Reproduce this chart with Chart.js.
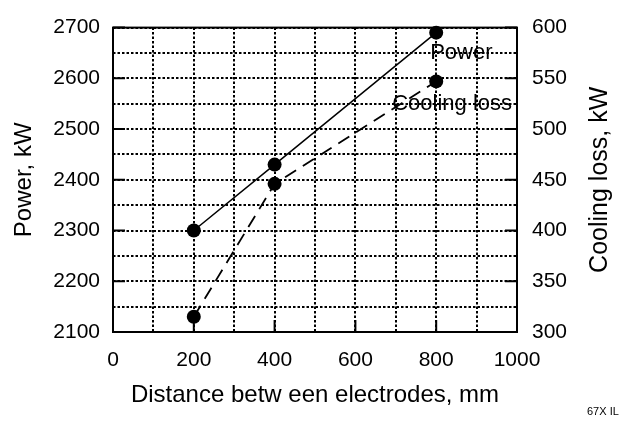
<!DOCTYPE html>
<html>
<head>
<meta charset="utf-8">
<script src="https://cdn.jsdelivr.net/npm/chart.js@4.4.0/dist/chart.umd.min.js"></script>
<style>
  body { margin: 0; background: #fff; }
  #wrap { position: relative; width: 621px; height: 423px; }
  #note {
    position: absolute;
    left: 587px;
    top: 405px;
    font: 11px "Liberation Sans", Arial, sans-serif;
    color: #000;
  }
</style>
</head>
<body>
<div id="wrap">
  <canvas id="chart" width="621" height="423"></canvas>
  <div id="note">67X IL</div>
</div>
<script>
// ─── DATA ─────────────────────────────────────────────
const distance = [200, 400, 800];
const power = [2300, 2430, 2690];
const coolingLoss = [315, 446, 547];
const seriesNames = ["Power", "Cooling loss"];

const xTitle = "Distance betw een electrodes, mm";
const yTitle = "Power, kW";
const y1Title = "Cooling loss, kW";

const FONT = '"Liberation Sans", Arial, sans-serif';

Chart.defaults.font.family = FONT;
Chart.defaults.font.size = 21;
Chart.defaults.color = "#000";

// frame, inside tick marks, series labels, right title
const framePlugin = {
  id: "frame",
  beforeDatasetsDraw(chart) {
    const { ctx, chartArea: a, scales } = chart;
    ctx.save();
    ctx.strokeStyle = "#000";
    ctx.lineWidth = 2;
    ctx.setLineDash([]);
    ctx.strokeRect(a.left, a.top, a.right - a.left, a.bottom - a.top);

    ctx.beginPath();
    scales.y.ticks
      .filter((t) => t.value % 100 === 0)
      .forEach((t) => {
        const y = scales.y.getPixelForValue(t.value);
        ctx.moveTo(a.left, y);
        ctx.lineTo(a.left + 12, y);
      });
    scales.y1.ticks.forEach((t) => {
      const y = scales.y1.getPixelForValue(t.value);
      ctx.moveTo(a.right, y);
      ctx.lineTo(a.right - 12, y);
    });
    scales.x.ticks
      .filter((t) => t.value % 200 === 0)
      .forEach((t) => {
        const x = scales.x.getPixelForValue(t.value);
        ctx.moveTo(x, a.bottom);
        ctx.lineTo(x, a.bottom - 12);
      });
    ctx.stroke();
    ctx.restore();
  },
  afterDatasetsDraw(chart) {
    const { ctx, chartArea: a } = chart;
    ctx.save();
    ctx.fillStyle = "#000";
    ctx.textAlign = "left";
    ctx.textBaseline = "alphabetic";

    // labels next to the last point of each series
    const offsets = [
      [-6, 26],
      [-44, 29],
    ];
    ctx.font = "22px " + FONT;
    chart.data.datasets.forEach((ds, i) => {
      const pts = chart.getDatasetMeta(i).data;
      const last = pts[pts.length - 1];
      ctx.fillText(ds.label, last.x + offsets[i][0], last.y + offsets[i][1]);
    });

    // right axis title, reading bottom to top
    ctx.font = "25px " + FONT;
    ctx.translate(chart.width - 21, (a.top + a.bottom) / 2);
    ctx.rotate(-Math.PI / 2);
    ctx.textAlign = "center";
    ctx.textBaseline = "middle";
    ctx.fillText(y1Title, 0, 0);
    ctx.restore();
  },
};

const gridStyle = { color: "#000", lineWidth: 2, drawTicks: false };

new Chart(document.getElementById("chart"), {
  type: "line",
  data: {
    datasets: [
      {
        label: seriesNames[0],
        data: distance.map((d, i) => ({ x: d, y: power[i] })),
        yAxisID: "y",
        borderColor: "#000",
        borderWidth: 1.5,
        pointRadius: 7,
        pointBackgroundColor: "#000",
        pointBorderWidth: 0,
        tension: 0,
        clip: false,
      },
      {
        label: seriesNames[1],
        data: distance.map((d, i) => ({ x: d, y: coolingLoss[i] })),
        yAxisID: "y1",
        borderColor: "#000",
        borderWidth: 1.8,
        borderDash: [13, 8],
        pointRadius: 7,
        pointBackgroundColor: "#000",
        pointBorderWidth: 0,
        tension: 0,
        clip: false,
      },
    ],
  },
  options: {
    responsive: false,
    animation: false,
    layout: { padding: { top: 24, left: 0, right: 0, bottom: 0 } },
    plugins: {
      legend: { display: false },
      tooltip: { enabled: false },
    },
    scales: {
      x: {
        type: "linear",
        min: 0,
        max: 1000,
        afterFit: (s) => { s.height = 91; },
        grid: gridStyle,
        border: { display: false, dash: [2.5, 2] },
        ticks: {
          stepSize: 100,
          autoSkip: false,
          maxRotation: 0,
          padding: 16,
          callback: (v) => (v % 200 === 0 ? v : ""),
        },
        title: {
          display: true,
          text: xTitle,
          font: { size: 24 },
          padding: { top: 0, bottom: 13 },
        },
      },
      y: {
        position: "left",
        min: 2100,
        max: 2700,
        afterFit: (s) => { s.width = 113; },
        grid: gridStyle,
        border: { display: false, dash: [2.5, 2] },
        ticks: {
          stepSize: 50,
          autoSkip: false,
          padding: 13,
          callback: (v) => (v % 100 === 0 ? v : ""),
        },
        title: {
          display: true,
          text: yTitle,
          font: { size: 24 },
          padding: { top: 10, bottom: 0 },
        },
      },
      y1: {
        position: "right",
        min: 300,
        max: 600,
        afterFit: (s) => { s.width = 104; },
        grid: { display: false, drawTicks: false },
        border: { display: false },
        ticks: { stepSize: 50, autoSkip: false, padding: 15 },
      },
    },
  },
  plugins: [framePlugin],
});
</script>
</body>
</html>
